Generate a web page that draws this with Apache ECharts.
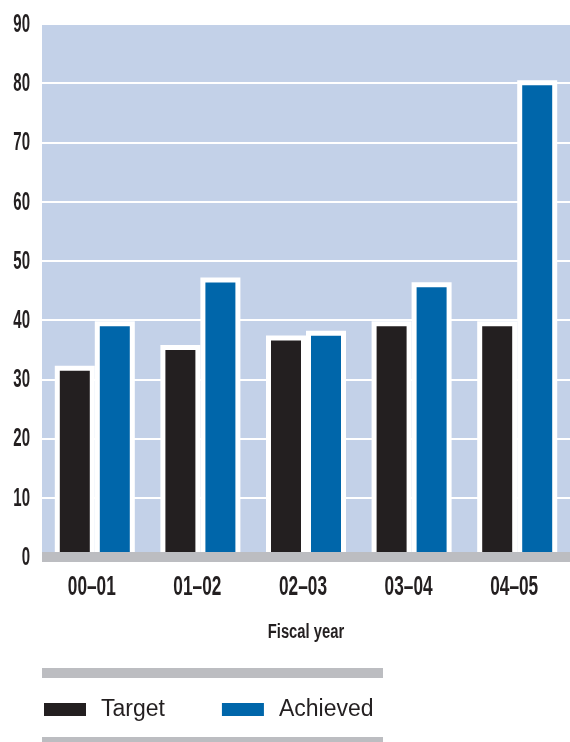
<!DOCTYPE html>
<html>
<head>
<meta charset="utf-8">
<script src="https://cdn.jsdelivr.net/npm/echarts@6/dist/echarts.min.js"></script>
<style>
  html, body { margin: 0; padding: 0; background: #ffffff; }
  #chart { width: 570px; height: 742px; }
</style>
</head>
<body>
<div id="chart"></div>
<script>
// Fiscal-year targets versus results
const fiscalYears = ['00–01', '01–02', '02–03', '03–04', '04–05'];
const targetValues = [32.3, 35.8, 37.4, 39.8, 39.8];
const achievedValues = [39.8, 47.2, 38.2, 46.4, 80.5];
const yTickLabels = [0, 10, 20, 30, 40, 50, 60, 70, 80, 90];
const yTicks = { min: 0, max: 90, interval: 10 };
const xAxisTitle = 'Fiscal year';

const INK = '#231f20';
const BLUE = '#0066aa';
const PANEL = '#c3d1e8';
const RULE = '#bcbdc1';
const SANS = '"Liberation Sans", Arial, sans-serif';

const chart = echarts.init(document.getElementById('chart'), null, { renderer: 'canvas' });

const barStyle = (color) => ({
  color: color,
  borderColor: '#ffffff',
  borderWidth: 5
});

chart.setOption({
  animation: false,
  backgroundColor: '#ffffff',
  grid: {
    left: 42,
    right: 0,
    top: 24,
    bottom: 185,
    show: true,
    backgroundColor: PANEL,
    borderWidth: 0
  },
  xAxis: {
    type: 'category',
    data: fiscalYears,
    z: 10,
    axisLine: { show: true, lineStyle: { color: RULE, width: 10, cap: 'butt' } },
    axisTick: { show: false },
    axisLabel: { show: false },
    splitLine: { show: false }
  },
  yAxis: {
    type: 'value',
    min: yTicks.min,
    max: yTicks.max,
    interval: yTicks.interval,
    axisLine: { show: false },
    axisTick: { show: false },
    axisLabel: { show: false },
    splitLine: { show: true, lineStyle: { color: '#ffffff', width: 2 } }
  },
  legend: {
    left: 44,
    top: 698,
    padding: 0,
    icon: 'rect',
    itemWidth: 42,
    itemHeight: 13,
    itemGap: 57,
    itemStyle: { borderWidth: 0 },
    textStyle: {
      fontFamily: SANS,
      fontSize: 23,
      color: INK,
      padding: [0, 0, 0, 10]
    },
    data: ['Target', 'Achieved']
  },
  series: [
    {
      name: 'Target',
      type: 'bar',
      data: targetValues,
      barWidth: 40,
      barGap: '0%',
      itemStyle: barStyle(INK)
    },
    {
      name: 'Achieved',
      type: 'bar',
      data: achievedValues,
      barWidth: 40,
      barGap: '0%',
      itemStyle: barStyle(BLUE)
    }
  ]
});

// Condensed tick labels, placed with the chart's own axis scales.
const yPx = (v) => chart.convertToPixel({ yAxisIndex: 0 }, v);
const xPx = (c) => chart.convertToPixel({ xAxisIndex: 0 }, c);
const zeroY = yPx(0);
const gridRect = chart.getModel().getComponent('grid').coordinateSystem.getRect();

const condensedText = (text, x, y, size, squeeze, align) => ({
  type: 'text',
  x: x,
  y: y,
  scaleX: squeeze,
  silent: true,
  z: 20,
  style: {
    text: text,
    font: 'bold ' + size + 'px ' + SANS,
    fill: INK,
    align: align,
    verticalAlign: 'middle'
  }
});

const graphics = [
  { type: 'rect', left: 42, top: 668, shape: { width: 341, height: 10 }, style: { fill: RULE }, silent: true },
  { type: 'rect', left: 42, top: 737, shape: { width: 341, height: 10 }, style: { fill: RULE }, silent: true }
];
yTickLabels.forEach((v) => {
  graphics.push(condensedText(String(v), 30, yPx(v) + 1, 25, 0.6, 'right'));
});
fiscalYears.forEach((c) => {
  graphics.push(condensedText(c, xPx(c) - 3, zeroY + 31, 27, 0.64, 'center'));
});
graphics.push(condensedText(xAxisTitle, gridRect.x + gridRect.width / 2, zeroY + 75, 20, 0.74, 'center'));

chart.setOption({ graphic: graphics });
</script>
</body>
</html>
